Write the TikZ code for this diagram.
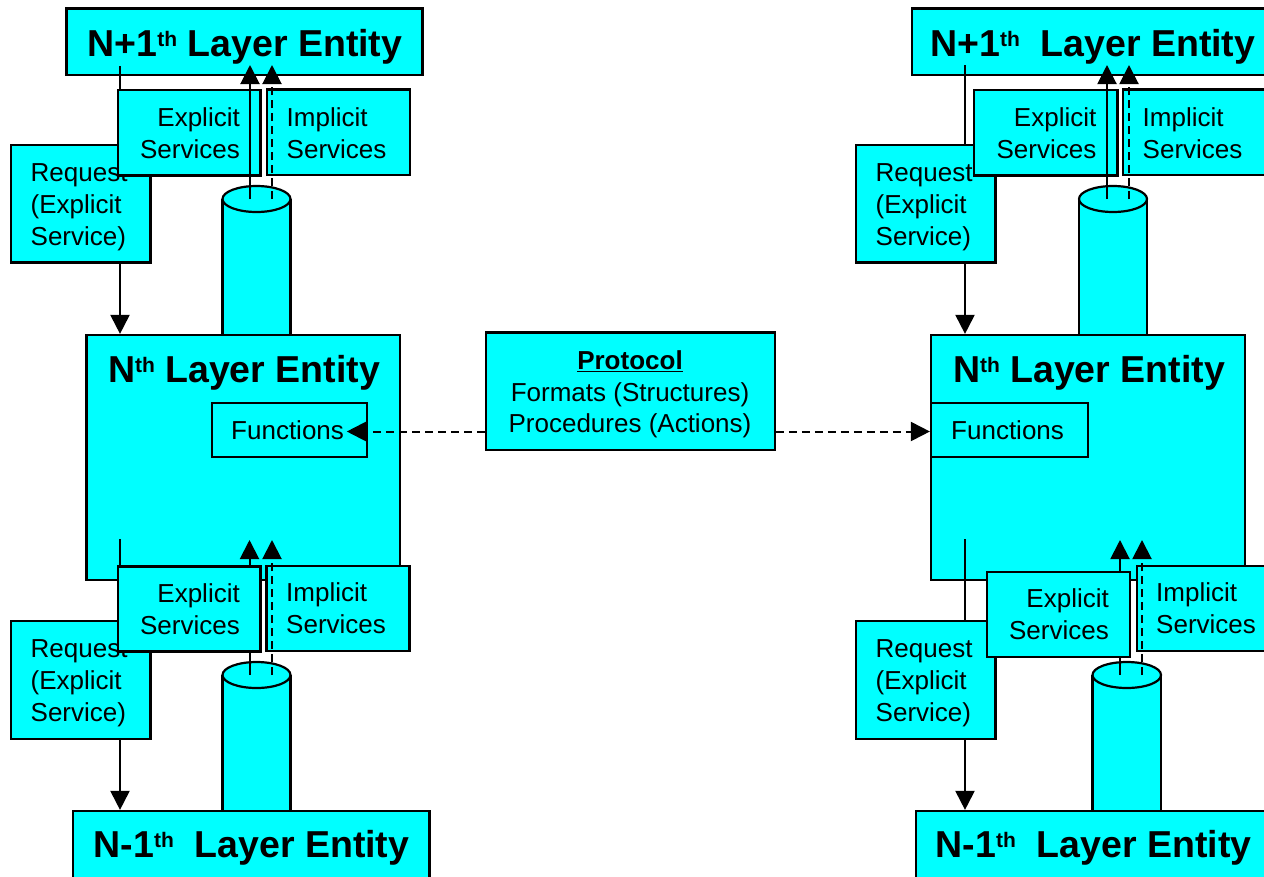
\documentclass[tikz,border=0pt]{standalone}
\usepackage{fontspec}
\setmainfont{Liberation Sans}
\usetikzlibrary{arrows.meta,calc}
\definecolor{aqua}{RGB}{0,255,255}
\newcommand{\mysup}{\raisebox{10pt}{\fontsize{21}{21}\selectfont th}}
\tikzset{
  box/.style={draw=black, fill=aqua, line width=2.2pt, inner sep=0pt},
  ttl/.style={inner sep=0pt, font=\fontsize{37.5}{40}\selectfont\bfseries},
  txt/.style={inner sep=0pt, font=\fontsize{26}{31.7}\selectfont},
  arr/.style={line width=2pt, -{Triangle[length=19pt,width=19pt]}},
  darr/.style={arr, dash pattern=on 8pt off 5pt},
  cylside/.style={line width=2.2pt},
}
\begin{document}
\begin{tikzpicture}[x=1pt,y=-1pt]
\clip (0,0) rectangle (1264,876);
\fill[white] (0,0) rectangle (1264,876);

% ---------- top cylinders ----------
\fill[aqua] (222.5,199) rectangle (290.5,345);
\draw[cylside] (222.5,199) -- (222.5,345) (290.5,199) -- (290.5,345);
\filldraw[fill=aqua, cylside] (256.5,199) ellipse [x radius=34pt, y radius=13pt];
\fill[aqua] (1079,199) rectangle (1147,345);
\draw[cylside] (1079,199) -- (1079,345) (1147,199) -- (1147,345);
\filldraw[fill=aqua, cylside] (1113,199) ellipse [x radius=34pt, y radius=13pt];

% ---------- N+1 layer boxes ----------
\node[box, minimum width=356pt, minimum height=66.5pt] (top1) at (244.5,41.75) {};
\node[ttl, anchor=base] (top1t) at (245,56.7) {N+1\mysup\ Layer Entity};
\node[box, minimum width=388pt, minimum height=66.5pt] (top2) at (1106,41.75) {};
\node[ttl, anchor=base west] (top2t) at (930,56.5) {N+1\mysup\ \ Layer Entity};

% ---------- N layer boxes ----------
\node[box, minimum width=313.5pt, minimum height=245pt] (nth1) at (243.25,457.5) {};
\node[ttl, anchor=base] (nth1t) at (244,382.7) {N\mysup\ Layer Entity};
\node[box, minimum width=155pt, minimum height=53.5pt] (fn1) at (289.2,430) {};
\node[txt, anchor=base west] (fn1t) at (231,439) {Functions};

\node[box, minimum width=314pt, minimum height=245pt] (nth2) at (1088,457.5) {};
\node[ttl, anchor=base] (nth2t) at (1089,382.7) {N\mysup\ Layer Entity};
\node[box, minimum width=157pt, minimum height=53.5pt] (fn2) at (1009.5,430) {};
\node[txt, anchor=base west] (fn2t) at (951,439) {Functions};

% ---------- down requests (top) ----------
\coordinate (d1s) at (120,66);
\draw[arr] (d1s) -- (d1s |- nth1.north);
\coordinate (d3s) at (965,65);
\draw[arr] (d3s) -- (d3s |- nth2.north);

% ---------- top service boxes ----------
\node[box, minimum width=139.5pt, minimum height=117.5pt] (rqT1) at (80.75,203.75) {};
\node[txt, align=left, anchor=west] (rqT1t) at (30.5,207.3) {Request\\(Explicit\\Service)};
\node[box, minimum width=142.5pt, minimum height=85.5pt] (exT1) at (189.25,132.75) {};
\node[txt, align=right, anchor=east] (exT1t) at (240,133.2) {Explicit\\Services};
\node[box, minimum width=143pt, minimum height=85.5pt] (imT1) at (338.5,132.25) {};
\node[txt, align=left, anchor=west] (imT1t) at (286.5,133.2) {Implicit\\Services};

\node[box, minimum width=139.5pt, minimum height=117.5pt] (rqT2) at (925.75,203.75) {};
\node[txt, align=left, anchor=west] (rqT2t) at (875.5,207.3) {Request\\(Explicit\\Service)};
\node[box, minimum width=143.5pt, minimum height=85.5pt] (exT2) at (1045.75,132.75) {};
\node[txt, align=right, anchor=east] (exT2t) at (1096.5,133.2) {Explicit\\Services};
\node[box, minimum width=177pt, minimum height=85.5pt] (imT2) at (1211.5,132.25) {};
\node[txt, align=left, anchor=west] (imT2t) at (1142.5,133.2) {Implicit\\Services};

% ---------- up arrows (top) ----------
\coordinate (u1s) at (250,199);  \coordinate (u1e) at (250,65);
\coordinate (u2s) at (272,199);  \coordinate (u2e) at (272,65);
\coordinate (u3s) at (1107,199); \coordinate (u3e) at (1107,65);
\coordinate (u4s) at (1129,199); \coordinate (u4e) at (1129,65);
\draw[arr] (u1s) -- (u1e);
\draw[darr] (u2s) -- (u2e);
\draw[arr] (u3s) -- (u3e);
\draw[darr] (u4s) -- (u4e);

% ---------- bottom cylinders ----------
\fill[aqua] (222.5,675) rectangle (290.5,820);
\draw[cylside] (222.5,675) -- (222.5,820) (290.5,675) -- (290.5,820);
\filldraw[fill=aqua, cylside] (256.5,675) ellipse [x radius=34pt, y radius=13pt];
\fill[aqua] (1092.5,675) rectangle (1161,820);
\draw[cylside] (1092.5,675) -- (1092.5,820) (1161,675) -- (1161,820);
\filldraw[fill=aqua, cylside] (1126.75,675) ellipse [x radius=34.25pt, y radius=13pt];

% ---------- N-1 layer boxes ----------
\node[box, minimum width=356.5pt, minimum height=70pt] (bot1) at (251.25,846) {};
\node[ttl, anchor=base] (bot1t) at (251.5,857) {N-1\mysup\ \ Layer Entity};
\node[box, minimum width=384pt, minimum height=70pt] (bot2) at (1108,846) {};
\node[ttl, anchor=base west] (bot2t) at (935.5,857) {N-1\mysup\ \ Layer Entity};

% ---------- down requests (bottom) ----------
\coordinate (d2s) at (120,539);
\draw[arr] (d2s) -- (d2s |- bot1.north);
\coordinate (d4s) at (965,539);
\draw[arr] (d4s) -- (d4s |- bot2.north);

% ---------- solid up arrows (bottom, behind boxes) ----------
\coordinate (u5s) at (249.5,675); \coordinate (u5e) at (249.5,540);
\coordinate (u7s) at (1120,675);  \coordinate (u7e) at (1120,540);
\draw[arr] (u5s) -- (u5e);
\draw[arr] (u7s) -- (u7e);

% ---------- bottom service boxes ----------
\node[box, minimum width=139.5pt, minimum height=118pt] (rqB1) at (80.75,680) {};
\node[txt, align=left, anchor=west] (rqB1t) at (30.5,683.3) {Request\\(Explicit\\Service)};
\node[box, minimum width=142.5pt, minimum height=85pt] (exB1) at (189.25,609) {};
\node[txt, align=right, anchor=east] (exB1t) at (240,609) {Explicit\\Services};
\node[box, minimum width=143pt, minimum height=85pt] (imB1) at (338,608.5) {};
\node[txt, align=left, anchor=west] (imB1t) at (286,608.2) {Implicit\\Services};

\node[box, minimum width=139.5pt, minimum height=118pt] (rqB2) at (925.75,680) {};
\node[txt, align=left, anchor=west] (rqB2t) at (875.5,683.3) {Request\\(Explicit\\Service)};
\node[box, minimum width=143pt, minimum height=85pt] (exB2) at (1058.5,614.5) {};
\node[txt, align=right, anchor=east] (exB2t) at (1109,614) {Explicit\\Services};
\node[box, minimum width=163pt, minimum height=85pt] (imB2) at (1218.5,608.5) {};
\node[txt, align=left, anchor=west] (imB2t) at (1156,608.2) {Implicit\\Services};

% ---------- dashed up arrows (bottom, on top) ----------
\coordinate (u6s) at (272,675);  \coordinate (u6e) at (272,540);
\coordinate (u8s) at (1142,675); \coordinate (u8e) at (1142,540);
\draw[darr] (u6s) -- (u6e);
\draw[darr] (u8s) -- (u8e);

% ---------- protocol ----------
\node[box, minimum width=289pt, minimum height=117.5pt] (prot) at (630.3,391.2) {};
\node[txt, align=center, font=\fontsize{26}{31.5}\selectfont] (prott) at (630,394.5)
  {\underline{\textbf{Protocol}}\\Formats (Structures)\\Procedures (Actions)};
\coordinate (fn1tip) at ($(fn1.east)+(-21,1.5)$);
\draw[darr] (prot.west |- fn1tip) -- (fn1tip);
\draw[darr] (prot.east |- fn1tip) -- (fn2.west |- fn1tip);
\end{tikzpicture}
\end{document}
